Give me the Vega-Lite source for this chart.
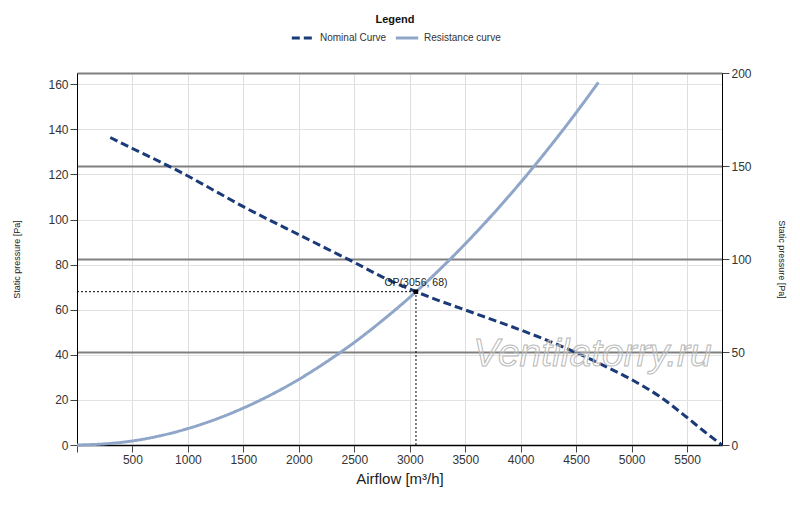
{
  "$schema": "https://vega.github.io/schema/vega-lite/v6.json",
  "width": 645,
  "height": 372,
  "autosize": {"type": "none"},
  "padding": {"left": 77, "top": 73, "right": 78, "bottom": 62},
  "background": "white",
  "config": {
    "view": {"stroke": null},
    "font": "Liberation Sans",
    "axis": {
      "labelFont": "Liberation Sans",
      "titleFont": "Liberation Sans",
      "labelColor": "#333",
      "titleColor": "#222",
      "titleFontWeight": "normal",
      "domainColor": "#000",
      "domainWidth": 1,
      "tickColor": "#444",
      "tickSize": 7,
      "labelPadding": 2
    },
    "legend": {"labelFont": "Liberation Sans", "titleFont": "Liberation Sans"}
  },
  "datasets": {
    "curves": [
      {"series": "Nominal Curve", "airflow": 300, "pressure": 136.4},
      {"series": "Nominal Curve", "airflow": 500, "pressure": 131.5},
      {"series": "Nominal Curve", "airflow": 750, "pressure": 125.6},
      {"series": "Nominal Curve", "airflow": 1000, "pressure": 119.3},
      {"series": "Nominal Curve", "airflow": 1250, "pressure": 112.5},
      {"series": "Nominal Curve", "airflow": 1500, "pressure": 105.7},
      {"series": "Nominal Curve", "airflow": 1750, "pressure": 99.4},
      {"series": "Nominal Curve", "airflow": 2000, "pressure": 93.3},
      {"series": "Nominal Curve", "airflow": 2250, "pressure": 87.1},
      {"series": "Nominal Curve", "airflow": 2500, "pressure": 81.0},
      {"series": "Nominal Curve", "airflow": 2750, "pressure": 74.6},
      {"series": "Nominal Curve", "airflow": 3056, "pressure": 68.0},
      {"series": "Nominal Curve", "airflow": 3250, "pressure": 64.3},
      {"series": "Nominal Curve", "airflow": 3500, "pressure": 59.9},
      {"series": "Nominal Curve", "airflow": 3750, "pressure": 55.5},
      {"series": "Nominal Curve", "airflow": 4000, "pressure": 51.0},
      {"series": "Nominal Curve", "airflow": 4250, "pressure": 46.2},
      {"series": "Nominal Curve", "airflow": 4500, "pressure": 41.0},
      {"series": "Nominal Curve", "airflow": 4750, "pressure": 35.2},
      {"series": "Nominal Curve", "airflow": 5000, "pressure": 29.0},
      {"series": "Nominal Curve", "airflow": 5250, "pressure": 21.6},
      {"series": "Nominal Curve", "airflow": 5500, "pressure": 12.2},
      {"series": "Nominal Curve", "airflow": 5650, "pressure": 6.2},
      {"series": "Nominal Curve", "airflow": 5815, "pressure": 0},
      {"series": "Resistance curve", "airflow": 0, "pressure": 0},
      {"series": "Resistance curve", "airflow": 250, "pressure": 0.5},
      {"series": "Resistance curve", "airflow": 500, "pressure": 1.8},
      {"series": "Resistance curve", "airflow": 750, "pressure": 4.1},
      {"series": "Resistance curve", "airflow": 1000, "pressure": 7.3},
      {"series": "Resistance curve", "airflow": 1250, "pressure": 11.4},
      {"series": "Resistance curve", "airflow": 1500, "pressure": 16.4},
      {"series": "Resistance curve", "airflow": 1750, "pressure": 22.3},
      {"series": "Resistance curve", "airflow": 2000, "pressure": 29.1},
      {"series": "Resistance curve", "airflow": 2250, "pressure": 36.9},
      {"series": "Resistance curve", "airflow": 2500, "pressure": 45.5},
      {"series": "Resistance curve", "airflow": 2750, "pressure": 55.1},
      {"series": "Resistance curve", "airflow": 3000, "pressure": 65.5},
      {"series": "Resistance curve", "airflow": 3250, "pressure": 76.9},
      {"series": "Resistance curve", "airflow": 3500, "pressure": 89.2},
      {"series": "Resistance curve", "airflow": 3750, "pressure": 102.4},
      {"series": "Resistance curve", "airflow": 4000, "pressure": 116.5},
      {"series": "Resistance curve", "airflow": 4250, "pressure": 131.5},
      {"series": "Resistance curve", "airflow": 4500, "pressure": 147.4},
      {"series": "Resistance curve", "airflow": 4700, "pressure": 160.8}
    ],
    "op": [{"airflow": 3056, "pressure": 68, "start": 0, "base": 0, "label": "OP(3056, 68)"}],
    "right": [{"pa": 0}, {"pa": 200}],
    "watermark": [{"text": "Ventilatorry.ru", "airflow": 4648, "pressure": 35}]
  },
  "layer": [
    {
      "layer": [
        {
          "data": {"name": "curves"},
          "transform": [{"filter": "datum.series == 'Resistance curve'"}],
          "mark": {"type": "line", "strokeWidth": 3, "interpolate": "monotone"},
          "encoding": {
            "x": {
              "field": "airflow", "type": "quantitative",
              "scale": {"domain": [0, 5815], "nice": false},
              "axis": {
                "title": "Airflow [m³/h]",
                "titleFontSize": 15,
                "titlePadding": 6,
                "labelFontSize": 12,
                "values": [0, 500, 1000, 1500, 2000, 2500, 3000, 3500, 4000, 4500, 5000, 5500],
                "labelExpr": "datum.value == 0 ? '' : datum.label",
                "format": "d",
                "grid": true,
                "gridColor": "#dedede"
              }
            },
            "y": {
              "field": "pressure", "type": "quantitative",
              "scale": {"domain": [0, 165], "nice": false},
              "axis": {
                "title": "Static pressure [Pa]",
                "titleFontSize": 9,
                "titlePadding": 26,
                "labelFontSize": 12,
                "values": [0, 20, 40, 60, 80, 100, 120, 140, 160],
                "grid": true,
                "gridColor": "#e2e2e2"
              }
            },
            "color": {
              "field": "series", "type": "nominal",
              "scale": {"domain": ["Nominal Curve", "Resistance curve"], "range": ["#1b3a78", "#8fa6c9"]},
              "legend": {
                "title": "Legend", "orient": "none", "legendX": 213, "legendY": -59,
                "direction": "horizontal", "titleAnchor": "middle", "titleFontSize": 11,
                "titleFontWeight": "bold", "titleColor": "#111", "titlePadding": 0,
                "labelFontSize": 10, "labelColor": "#333", "symbolType": "stroke",
                "symbolSize": 500, "symbolStrokeWidth": 3, "columnPadding": 2, "labelOffset": 4
              }
            },
            "strokeDash": {
              "field": "series", "type": "nominal",
              "scale": {"domain": ["Nominal Curve", "Resistance curve"], "range": [[8, 4], [1, 0]]},
              "legend": {
                "title": "Legend", "orient": "none", "legendX": 213, "legendY": -59,
                "direction": "horizontal", "titleAnchor": "middle", "titleFontSize": 11,
                "titleFontWeight": "bold", "titleColor": "#111", "titlePadding": 0,
                "labelFontSize": 10, "labelColor": "#333", "symbolType": "stroke",
                "symbolSize": 500, "symbolStrokeWidth": 3, "columnPadding": 2, "labelOffset": 4
              }
            }
          }
        },
        {
          "data": {"name": "curves"},
          "transform": [{"filter": "datum.series == 'Nominal Curve'"}],
          "mark": {"type": "line", "strokeWidth": 3, "interpolate": "monotone"},
          "encoding": {
            "x": {"field": "airflow", "type": "quantitative"},
            "y": {"field": "pressure", "type": "quantitative"},
            "color": {"field": "series", "type": "nominal"},
            "strokeDash": {"field": "series", "type": "nominal"}
          }
        },
        {
          "data": {"name": "op"},
          "mark": {"type": "rule", "color": "#000", "strokeWidth": 1, "strokeDash": [2, 2]},
          "encoding": {
            "x": {"field": "start", "type": "quantitative"},
            "x2": {"field": "airflow"},
            "y": {"field": "pressure", "type": "quantitative"}
          }
        },
        {
          "data": {"name": "op"},
          "mark": {"type": "rule", "color": "#000", "strokeWidth": 1, "strokeDash": [2, 2]},
          "encoding": {
            "x": {"field": "airflow", "type": "quantitative"},
            "y": {"field": "base", "type": "quantitative"},
            "y2": {"field": "pressure"}
          }
        },
        {
          "data": {"name": "op"},
          "mark": {"type": "point", "shape": "square", "filled": true, "color": "#000", "size": 20, "opacity": 1},
          "encoding": {
            "x": {"field": "airflow", "type": "quantitative"},
            "y": {"field": "pressure", "type": "quantitative"}
          }
        },
        {
          "data": {"name": "op"},
          "mark": {"type": "text", "fontSize": 10.5, "color": "#222", "align": "center", "baseline": "alphabetic", "dy": -6},
          "encoding": {
            "x": {"field": "airflow", "type": "quantitative"},
            "y": {"field": "pressure", "type": "quantitative"},
            "text": {"field": "label"}
          }
        },
        {
          "data": {"name": "watermark"},
          "mark": {
            "type": "text", "fontSize": 39, "fontStyle": "italic", "align": "center",
            "baseline": "alphabetic", "fill": "#ffffff", "fillOpacity": 0.2,
            "stroke": "#b8b8b8", "strokeWidth": 1
          },
          "encoding": {
            "x": {"field": "airflow", "type": "quantitative"},
            "y": {"field": "pressure", "type": "quantitative"},
            "text": {"field": "text"}
          }
        }
      ]
    },
    {
      "data": {"name": "right"},
      "mark": {"type": "rule", "opacity": 0},
      "encoding": {
        "y": {
          "field": "pa", "type": "quantitative",
          "scale": {"domain": [0, 200], "nice": false},
          "axis": {
            "orient": "right",
            "title": "Static pressure [Pa]",
            "titleFontSize": 9,
            "titlePadding": 25,
            "labelFontSize": 12,
            "values": [0, 50, 100, 150, 200],
            "grid": true,
            "gridColor": "#808080",
            "gridWidth": 2
          }
        }
      }
    }
  ],
  "resolve": {"scale": {"y": "independent"}, "axis": {"y": "independent"}}
}
